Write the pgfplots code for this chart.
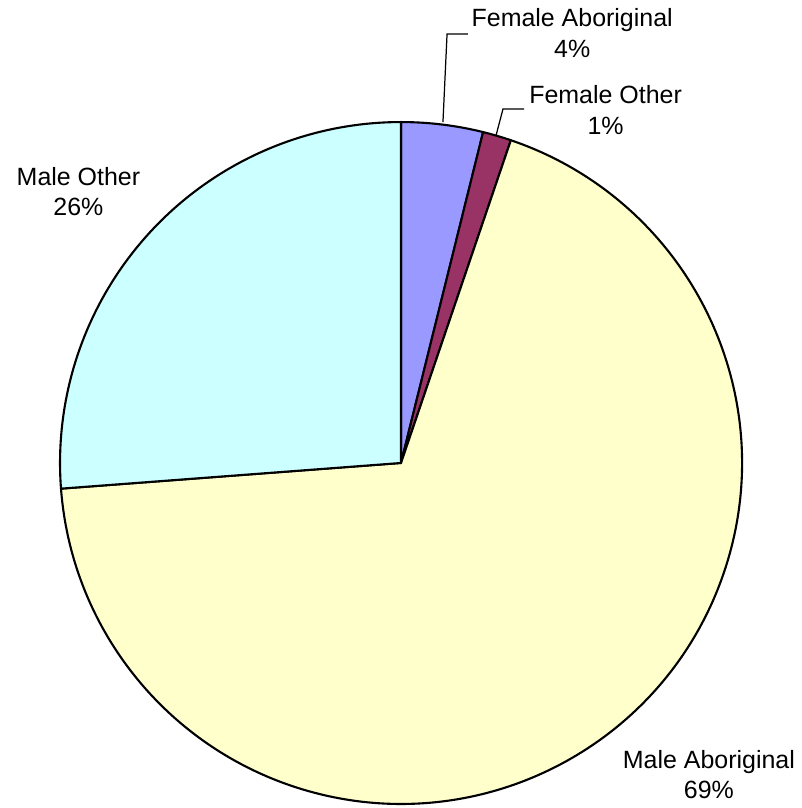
\documentclass[border=0pt]{standalone}
\usepackage{fontspec}
\setmainfont{Liberation Sans}
\usepackage{pgfplots}
\usepackage{pgfplotstable}
\pgfplotsset{compat=1.18}
\definecolor{FemAbo}{HTML}{9999FF}
\definecolor{FemOth}{HTML}{993366}
\definecolor{MalAbo}{HTML}{FFFFCC}
\definecolor{MalOth}{HTML}{CCFFFF}

% share of each group, in per cent, clockwise from the top
\pgfplotstableread[col sep=comma]{
group,share
Female Aboriginal,3.87
Female Other,1.35
Male Aboriginal,68.58
Male Other,26.20
}\piedata

% slice boundaries (degrees), clockwise from 90
\pgfmathsetmacro\angA{90}
\pgfplotstablegetelem{0}{share}\of\piedata
\pgfmathsetmacro\angB{\angA-3.6*\pgfplotsretval}
\pgfplotstablegetelem{1}{share}\of\piedata
\pgfmathsetmacro\angC{\angB-3.6*\pgfplotsretval}
\pgfplotstablegetelem{2}{share}\of\piedata
\pgfmathsetmacro\angD{\angC-3.6*\pgfplotsretval}
\pgfplotstablegetelem{3}{share}\of\piedata
\pgfmathsetmacro\angE{\angD-3.6*\pgfplotsretval}

\begin{document}
\begin{tikzpicture}[lbl/.style={font=\fontsize{7.1}{8.6}\selectfont, align=center, inner sep=0pt}]
  \begin{axis}[
      scale only axis,
      width=8.01cm, height=8.08cm,
      xmin=-1.176, xmax=1.173,
      ymin=-1.012, ymax=1.358,
      hide axis,
      clip=false,
    ]
    % slices
    \filldraw[fill=FemAbo, line width=0.6pt, line join=round]
      (axis cs:0,0) -- (axis cs:{cos(\angA)},{sin(\angA)})
      arc[start angle=\angA, end angle=\angB, radius=1] -- cycle;
    \filldraw[fill=FemOth, line width=0.6pt, line join=round]
      (axis cs:0,0) -- (axis cs:{cos(\angB)},{sin(\angB)})
      arc[start angle=\angB, end angle=\angC, radius=1] -- cycle;
    \filldraw[fill=MalAbo, line width=0.6pt, line join=round]
      (axis cs:0,0) -- (axis cs:{cos(\angC)},{sin(\angC)})
      arc[start angle=\angC, end angle=\angD, radius=1] -- cycle;
    \filldraw[fill=MalOth, line width=0.6pt, line join=round]
      (axis cs:0,0) -- (axis cs:{cos(\angD)},{sin(\angD)})
      arc[start angle=\angD, end angle=\angE, radius=1] -- cycle;
    % leader lines
    \draw[line width=0.35pt] (axis cs:0.123,1.0) -- (axis cs:0.135,1.258) -- (axis cs:0.196,1.258);
    \draw[line width=0.35pt] (axis cs:0.279,0.962) -- (axis cs:0.299,1.038) -- (axis cs:0.361,1.038);
    % labels
    \node[lbl] at (axis cs:0.502,1.261) {Female Aboriginal\\4\%};
    \node[lbl] at (axis cs:0.600,1.035) {Female Other\\1\%};
    \node[lbl] at (axis cs:-0.946,0.796) {Male Other\\26\%};
    \node[lbl] at (axis cs:0.903,-0.913) {Male Aboriginal\\69\%};
  \end{axis}
  \pgfresetboundingbox
  \useasboundingbox (current axis.south west) rectangle (current axis.north east);
\end{tikzpicture}
\end{document}
